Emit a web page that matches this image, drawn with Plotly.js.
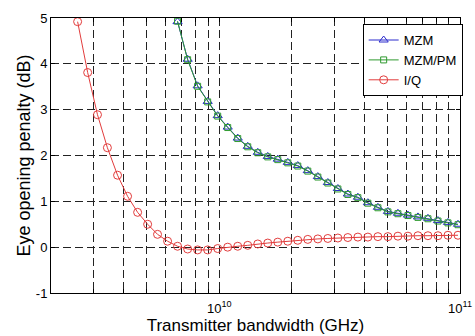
<!DOCTYPE html>
<html>
<head>
<meta charset="utf-8">
<script src="https://cdn.plot.ly/plotly-3.0.1.min.js"></script>
<style>html,body{margin:0;padding:0;background:#fff;}#chart{width:475px;height:336px;}</style>
</head>
<body>
<div id="chart"></div>
<script>
// Transmitter bandwidth (Hz) sample points
const bandwidthHz = [2.58e9, 2.84e9, 3.12e9, 3.43e9, 3.78e9, 4.16e9, 4.58e9, 5.04e9, 5.54e9, 6.10e9,
  6.71e9, 7.39e9, 8.13e9, 8.95e9, 9.85e9, 1.084e10, 1.193e10, 1.313e10, 1.445e10, 1.590e10,
  1.750e10, 1.926e10, 2.119e10, 2.332e10, 2.567e10, 2.825e10, 3.109e10, 3.421e10, 3.765e10, 4.143e10,
  4.560e10, 5.018e10, 5.522e10, 6.077e10, 6.688e10, 7.360e10, 8.100e10, 8.914e10, 9.810e10];
const mzmBandwidthHz = bandwidthHz.slice(10);

// Eye opening penalty (dB)
const mzm = [4.92, 4.10, 3.52, 3.18, 2.87, 2.62, 2.38, 2.20, 2.07, 1.98,
  1.92, 1.85, 1.78, 1.67, 1.54, 1.41, 1.28, 1.16, 1.09, 0.97,
  0.87, 0.78, 0.74, 0.70, 0.66, 0.63, 0.58, 0.54, 0.50];
const mzmPm = [4.93, 4.09, 3.51, 3.17, 2.86, 2.61, 2.37, 2.19, 2.06, 1.97,
  1.91, 1.84, 1.77, 1.66, 1.53, 1.40, 1.27, 1.15, 1.08, 0.96,
  0.86, 0.77, 0.73, 0.69, 0.65, 0.62, 0.57, 0.53, 0.49];
const iq = [4.92, 3.81, 2.89, 2.17, 1.57, 1.11, 0.76, 0.50, 0.28, 0.13,
  0.02, -0.04, -0.06, -0.06, -0.03, 0.00, 0.02, 0.04, 0.07, 0.09,
  0.11, 0.13, 0.15, 0.17, 0.18, 0.19, 0.20, 0.21, 0.22, 0.22,
  0.23, 0.23, 0.24, 0.24, 0.25, 0.25, 0.25, 0.26, 0.26];

// Axis ticks
const xTickVals = [2e9, 3e9, 4e9, 5e9, 6e9, 7e9, 8e9, 9e9, 1e10, 2e10, 3e10, 4e10, 5e10, 6e10, 7e10, 8e10, 9e10, 1e11];
const xTickText = ['', '', '', '', '', '', '', '', '10<sup>10</sup>', '', '', '', '', '', '', '', '', '10<sup>11</sup>'];
const yTickVals = [-1, 0, 1, 2, 3, 4, 5];
const yTickText = ['-1', '0', '1', '2', '3', '4', '5'];

const FONT = 'Arial, "Liberation Sans", Helvetica, sans-serif';
const BLUE = '#2a2acc', GREEN = '#2f9a2f', RED = '#e23c3c';

const traces = [
  {x: mzmBandwidthHz, y: mzm, name: 'MZM', mode: 'lines+markers', type: 'scatter',
   line: {color: BLUE, width: 1}, marker: {symbol: 'triangle-up-open', size: 8, color: BLUE, line: {width: 1, color: BLUE}}},
  {x: mzmBandwidthHz, y: mzmPm, name: 'MZM/PM', mode: 'lines+markers', type: 'scatter',
   line: {color: GREEN, width: 1}, marker: {symbol: 'square-open', size: 6, color: GREEN, line: {width: 1, color: GREEN}}},
  {x: bandwidthHz, y: iq, name: 'I/Q', mode: 'lines+markers', type: 'scatter',
   line: {color: RED, width: 1}, marker: {symbol: 'circle-open', size: 8, color: RED, line: {width: 1, color: RED}}}
];

const axisCommon = {
  showline: true, linecolor: '#000', linewidth: 1, mirror: 'ticks',
  ticks: 'inside', ticklen: 4, tickcolor: '#000', tickwidth: 1,
  showgrid: true, gridcolor: '#222', gridwidth: 1, griddash: '8px,4px',
  zeroline: false, tickfont: {family: FONT, size: 13, color: '#000'}
};

const layout = {
  width: 475, height: 336,
  margin: {l: 51, r: 12, t: 18, b: 43, pad: 0},
  paper_bgcolor: '#fff', plot_bgcolor: '#fff',
  font: {family: FONT, color: '#000'},
  showlegend: true,
  legend: {x: 0.762, y: 0.978, xanchor: 'left', yanchor: 'top', bgcolor: '#fff',
    bordercolor: '#000', borderwidth: 1, font: {family: FONT, size: 13, color: '#000'},
    itemwidth: 30, tracegroupgap: 0},
  xaxis: Object.assign({}, axisCommon, {
    type: 'log', range: [Math.log10(2e9), 11], tickmode: 'array',
    tickvals: xTickVals, ticktext: xTickText, ticklabelstandoff: 3,
    title: {text: 'Transmitter bandwidth (GHz)', font: {family: FONT, size: 17, color: '#000'}, standoff: 3}
  }),
  yaxis: Object.assign({}, axisCommon, {
    range: [-1, 5], tickmode: 'array', tickvals: yTickVals, ticktext: yTickText,
    title: {text: 'Eye opening penalty (dB)', font: {family: FONT, size: 18, color: '#000'}, standoff: 0}
  })
};

Plotly.newPlot('chart', traces, layout, {staticPlot: true, displayModeBar: false});
</script>
</body>
</html>
